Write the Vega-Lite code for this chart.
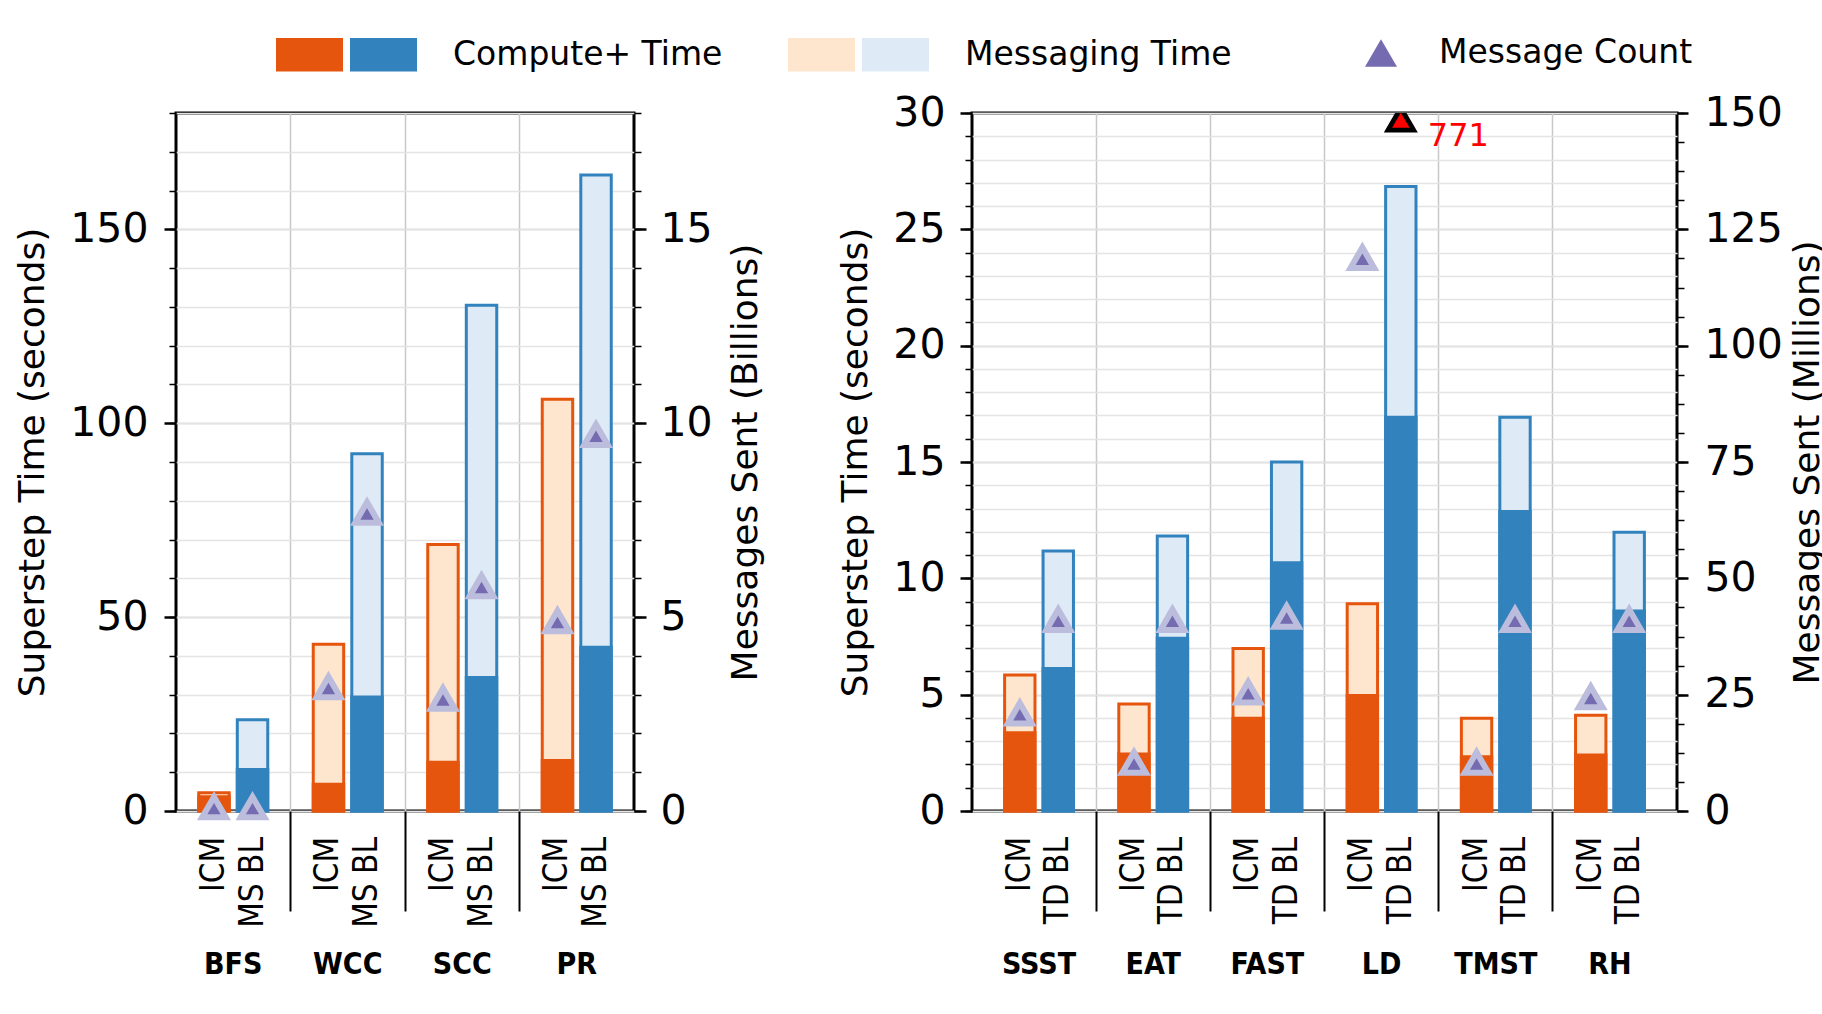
{
  "$schema": "https://vega.github.io/schema/vega-lite/v6.json",
  "background": "white",
  "padding": {"left": 13, "top": 21, "right": 0, "bottom": 0},
  "spacing": 71,
  "datasets": {
    "left": [
      {"group": "BFS", "system": "ICM", "compute": 3.7, "total": 4.7, "messages": 0.1},
      {"group": "BFS", "system": "MS BL", "compute": 10.7, "total": 23.5, "messages": 0.1},
      {"group": "WCC", "system": "ICM", "compute": 6.9, "total": 43.0, "messages": 3.2},
      {"group": "WCC", "system": "MS BL", "compute": 29.4, "total": 92.1, "messages": 7.7},
      {"group": "SCC", "system": "ICM", "compute": 12.6, "total": 68.7, "messages": 2.9},
      {"group": "SCC", "system": "MS BL", "compute": 34.4, "total": 130.4, "messages": 5.8},
      {"group": "PR", "system": "ICM", "compute": 13.0, "total": 106.2, "messages": 4.9},
      {"group": "PR", "system": "MS BL", "compute": 42.2, "total": 164.0, "messages": 9.7}
    ],
    "right": [
      {"group": "SSST", "system": "ICM", "compute": 3.36, "total": 5.85, "messages": 21.0},
      {"group": "SSST", "system": "TD BL", "compute": 6.13, "total": 11.17, "messages": 41.1},
      {"group": "EAT", "system": "ICM", "compute": 2.45, "total": 4.6, "messages": 10.4},
      {"group": "EAT", "system": "TD BL", "compute": 7.43, "total": 11.82, "messages": 41.1},
      {"group": "FAST", "system": "ICM", "compute": 3.99, "total": 6.98, "messages": 25.5},
      {"group": "FAST", "system": "TD BL", "compute": 10.67, "total": 15.0, "messages": 41.8},
      {"group": "LD", "system": "ICM", "compute": 4.96, "total": 8.91, "messages": 118.9},
      {"group": "LD", "system": "TD BL", "compute": 16.92, "total": 26.84, "messages": 771},
      {"group": "TMST", "system": "ICM", "compute": 2.33, "total": 3.99, "messages": 10.4},
      {"group": "TMST", "system": "TD BL", "compute": 12.87, "total": 16.92, "messages": 41.1},
      {"group": "RH", "system": "ICM", "compute": 2.41, "total": 4.11, "messages": 24.5},
      {"group": "RH", "system": "TD BL", "compute": 8.6, "total": 11.98, "messages": 41.1}
    ]
  },
  "hconcat": [
    {
      "width": 458,
      "height": 698,
      "data": {"name": "left"},
      "resolve": {"scale": {"x": "independent", "y": "independent", "xOffset": "independent"}, "axis": {"x": "independent", "y": "independent"}},
      "layer": [
        {
          "encoding": {
            "x": {"field": "group", "type": "nominal", "sort": null, "scale": {"type": "band", "paddingInner": 0, "paddingOuter": 0},
              "axis": {"orient": "bottom", "title": null, "labels": false, "ticks": true, "tickSize": 100, "tickWidth": 2, "tickColor": "black", "bandPosition": 0, "values": ["WCC", "SCC", "PR"], "grid": true, "gridColor": "#c8c8c8", "gridWidth": 1.5, "domain": false}},
            "xOffset": {"field": "system", "type": "nominal", "scale": {"type": "band", "paddingInner": 0.21, "paddingOuter": 0.59}}
          },
          "layer": [
            {
              "transform": [{"filter": "datum.system == 'ICM'"}],
              "mark": {"type": "bar", "stroke": "#e6550d", "strokeWidth": 3},
              "encoding": {
                "y": {"field": "total", "type": "quantitative", "scale": {"domain": [0, 180], "nice": false},
                  "axis": {"orient": "left", "title": "Superstep Time (seconds)", "values": [0, 50, 100, 150], "tickSize": 12, "tickWidth": 2.5, "labelPadding": 16, "titlePadding": 18, "grid": true, "gridColor": "#c4c4c4", "gridWidth": 1.5}},
                "fill": {"datum": "ICM Messaging", "type": "nominal",
                  "scale": {"domain": ["ICM Compute", "ICM Messaging"], "range": ["#e6550d", "#fee6ce"]},
                  "legend": {"orient": "none", "legendX": 100, "legendY": -92, "direction": "horizontal", "title": null, "symbolType": "M-1,-0.5H1V0.5H-1Z", "symbolSize": 4489, "symbolStrokeWidth": 0, "labelFontSize": 33, "labelOffset": 0, "columnPadding": 445, "labelExpr": "''"}}
              }
            },
            {
              "transform": [{"filter": "datum.system != 'ICM'"}],
              "mark": {"type": "bar", "stroke": "#3182bd", "strokeWidth": 3},
              "encoding": {
                "y": {"field": "total", "type": "quantitative"},
                "color": {"datum": "Messaging Time", "type": "nominal",
                  "scale": {"domain": ["Compute+ Time", "Messaging Time"], "range": ["#3182bd", "#deebf7"]},
                  "legend": {"orient": "none", "legendX": 174, "legendY": -92, "direction": "horizontal", "title": null, "symbolType": "M-1,-0.5H1V0.5H-1Z", "symbolSize": 4489, "symbolStrokeWidth": 0, "labelFontSize": 33, "labelOffset": 36, "columnPadding": 139, "labelLimit": 400}}
              }
            },
            {
              "transform": [{"filter": "datum.system == 'ICM'"}],
              "mark": {"type": "bar", "stroke": "#e6550d", "strokeWidth": 3},
              "encoding": {
                "y": {"field": "compute", "type": "quantitative"},
                "fill": {"datum": "ICM Compute", "type": "nominal"}
              }
            },
            {
              "transform": [{"filter": "datum.system != 'ICM'"}],
              "mark": {"type": "bar", "stroke": "#3182bd", "strokeWidth": 3},
              "encoding": {
                "y": {"field": "compute", "type": "quantitative"},
                "color": {"datum": "Compute+ Time", "type": "nominal"}
              }
            }
          ]
        },
        {
          "mark": {"type": "text", "angle": 270, "align": "right", "baseline": "middle", "yOffset": 26, "font": "DejaVu Sans Condensed, DejaVu Sans", "fontSize": 33, "color": "black"},
          "encoding": {
            "x": {"field": "group", "type": "nominal", "sort": null, "scale": {"type": "band", "paddingInner": 0, "paddingOuter": 0},
              "axis": {"orient": "bottom", "title": null, "ticks": false, "domain": false, "grid": false, "labelAngle": 0, "labelBaseline": "top", "labelPadding": 138, "labelFont": "Liberation Sans Narrow, DejaVu Sans Condensed", "labelFontWeight": "bold", "labelFontSize": 30}},
            "xOffset": {"field": "system", "type": "nominal", "scale": {"type": "band", "paddingInner": 0.21, "paddingOuter": 0.59}},
            "y": {"datum": 0, "type": "quantitative", "scale": {"domain": [0, 180], "nice": false},
              "axis": {"orient": "left", "title": null, "labels": false, "values": [0, 10, 20, 30, 40, 50, 60, 70, 80, 90, 100, 110, 120, 130, 140, 150, 160, 170, 180], "tickSize": 7, "tickWidth": 1.5, "grid": true, "gridColor": "#e4e4e4", "gridWidth": 1.5}},
            "text": {"field": "system"}
          }
        },
        {
          "mark": {"type": "point", "shape": "triangle-up", "filled": true, "color": "#756bb1", "stroke": "#bcbddc", "strokeWidth": 6, "size": 560, "opacity": 1},
          "encoding": {
            "x": {"field": "group", "type": "nominal", "sort": null, "scale": {"type": "band", "paddingInner": 0, "paddingOuter": 0}, "axis": null},
            "xOffset": {"field": "system", "type": "nominal", "scale": {"type": "band", "paddingInner": 0.21, "paddingOuter": 0.59}},
            "y": {"field": "messages", "type": "quantitative", "scale": {"domain": [0, 18], "nice": false},
              "axis": {"orient": "right", "title": "Messages Sent (Billions)", "titleAngle": 270, "titleBaseline": "top", "values": [0, 5, 10, 15], "tickSize": 12, "tickWidth": 2.5, "labelPadding": 14, "titlePadding": 16, "grid": false}}
          }
        },
        {
          "transform": [{"filter": "datum.messages > 18"}],
          "mark": {"type": "point", "filled": true, "color": "#756bb1", "stroke": "#bcbddc", "strokeWidth": 8, "size": 1024, "opacity": 1},
          "encoding": {
            "x": {"field": "group", "type": "nominal", "scale": {"type": "band", "domain": ["BFS", "WCC", "SCC", "PR"], "paddingInner": 0, "paddingOuter": 0}, "axis": null},
            "xOffset": {"field": "system", "type": "nominal", "scale": {"type": "band", "domain": ["ICM", "MS BL"], "paddingInner": 0.21, "paddingOuter": 0.59}},
            "y": {"field": "messages", "type": "quantitative", "scale": {"domain": [0, 18], "nice": false, "clamp": true},
              "axis": {"orient": "right", "title": null, "labels": false, "values": [0, 1, 2, 3, 4, 5, 6, 7, 8, 9, 10, 11, 12, 13, 14, 15, 16, 17, 18], "tickSize": 7, "tickWidth": 1.5, "grid": false}},
            "shape": {"datum": "Message Count", "type": "nominal", "scale": {"domain": ["Message Count"], "range": ["triangle-up"]},
              "legend": {"orient": "none", "legendX": 1185, "legendY": -80, "title": null, "symbolSize": 1024, "symbolFillColor": "#756bb1", "symbolStrokeColor": "#bcbddc", "symbolStrokeWidth": 8, "labelFontSize": 33, "labelOffset": 38, "labelLimit": 400}}
          }
        }
      ]
    },
    {
      "width": 705,
      "height": 698,
      "data": {"name": "right"},
      "resolve": {"scale": {"x": "independent", "y": "independent", "xOffset": "independent"}, "axis": {"x": "independent", "y": "independent"}},
      "layer": [
        {
          "encoding": {
            "x": {"field": "group", "type": "nominal", "sort": null, "scale": {"type": "band", "paddingInner": 0, "paddingOuter": 0.087},
              "axis": {"orient": "bottom", "title": null, "labels": false, "ticks": true, "tickSize": 100, "tickWidth": 2, "tickColor": "black", "bandPosition": 0, "values": ["EAT", "FAST", "LD", "TMST", "RH"], "grid": true, "gridColor": "#c8c8c8", "gridWidth": 1.5, "domain": false}},
            "xOffset": {"field": "system", "type": "nominal", "scale": {"type": "band", "paddingInner": 0.21, "paddingOuter": 0.59}}
          },
          "layer": [
            {
              "transform": [{"filter": "datum.system == 'ICM'"}],
              "mark": {"type": "bar", "stroke": "#e6550d", "strokeWidth": 3},
              "encoding": {
                "y": {"field": "total", "type": "quantitative", "scale": {"domain": [0, 30], "nice": false},
                  "axis": {"orient": "left", "title": "Superstep Time (seconds)", "values": [0, 5, 10, 15, 20, 25, 30], "tickSize": 12, "tickWidth": 2.5, "labelPadding": 15, "titlePadding": 18, "grid": true, "gridColor": "#c4c4c4", "gridWidth": 1.5}},
                "fill": {"datum": "ICM Messaging", "type": "nominal"}
              }
            },
            {
              "transform": [{"filter": "datum.system != 'ICM'"}],
              "mark": {"type": "bar", "stroke": "#3182bd", "strokeWidth": 3},
              "encoding": {
                "y": {"field": "total", "type": "quantitative"},
                "color": {"datum": "Messaging Time", "type": "nominal"}
              }
            },
            {
              "transform": [{"filter": "datum.system == 'ICM'"}],
              "mark": {"type": "bar", "stroke": "#e6550d", "strokeWidth": 3},
              "encoding": {
                "y": {"field": "compute", "type": "quantitative"},
                "fill": {"datum": "ICM Compute", "type": "nominal"}
              }
            },
            {
              "transform": [{"filter": "datum.system != 'ICM'"}],
              "mark": {"type": "bar", "stroke": "#3182bd", "strokeWidth": 3},
              "encoding": {
                "y": {"field": "compute", "type": "quantitative"},
                "color": {"datum": "Compute+ Time", "type": "nominal"}
              }
            }
          ]
        },
        {
          "mark": {"type": "text", "angle": 270, "align": "right", "baseline": "middle", "yOffset": 26, "font": "DejaVu Sans Condensed, DejaVu Sans", "fontSize": 33, "color": "black"},
          "encoding": {
            "x": {"field": "group", "type": "nominal", "sort": null, "scale": {"type": "band", "paddingInner": 0, "paddingOuter": 0.087},
              "axis": {"orient": "bottom", "title": null, "ticks": false, "domain": false, "grid": false, "labelAngle": 0, "labelBaseline": "top", "labelPadding": 138, "labelFont": "Liberation Sans Narrow, DejaVu Sans Condensed", "labelFontWeight": "bold", "labelFontSize": 30}},
            "xOffset": {"field": "system", "type": "nominal", "scale": {"type": "band", "paddingInner": 0.21, "paddingOuter": 0.59}},
            "y": {"datum": 0, "type": "quantitative", "scale": {"domain": [0, 30], "nice": false},
              "axis": {"orient": "left", "title": null, "labels": false, "values": [0, 1, 2, 3, 4, 5, 6, 7, 8, 9, 10, 11, 12, 13, 14, 15, 16, 17, 18, 19, 20, 21, 22, 23, 24, 25, 26, 27, 28, 29, 30], "tickSize": 7, "tickWidth": 1.5, "grid": true, "gridColor": "#e4e4e4", "gridWidth": 1.5}},
            "text": {"field": "system"}
          }
        },
        {
          "transform": [{"filter": "datum.messages <= 150"}],
          "mark": {"type": "point", "shape": "triangle-up", "filled": true, "color": "#756bb1", "stroke": "#bcbddc", "strokeWidth": 6, "size": 560, "opacity": 1},
          "encoding": {
            "x": {"field": "group", "type": "nominal", "scale": {"type": "band", "domain": ["SSST", "EAT", "FAST", "LD", "TMST", "RH"], "paddingInner": 0, "paddingOuter": 0.087}, "axis": null},
            "xOffset": {"field": "system", "type": "nominal", "scale": {"type": "band", "domain": ["ICM", "TD BL"], "paddingInner": 0.21, "paddingOuter": 0.59}},
            "y": {"field": "messages", "type": "quantitative", "scale": {"domain": [0, 150], "nice": false},
              "axis": {"orient": "right", "title": "Messages Sent (Millions)", "titleAngle": 270, "titleBaseline": "top", "values": [0, 25, 50, 75, 100, 125, 150], "tickSize": 11, "tickWidth": 2.5, "labelPadding": 16, "titlePadding": 8, "grid": false}}
          }
        },
        {
          "transform": [{"filter": "datum.messages > 150"}],
          "encoding": {
            "x": {"field": "group", "type": "nominal", "scale": {"type": "band", "domain": ["SSST", "EAT", "FAST", "LD", "TMST", "RH"], "paddingInner": 0, "paddingOuter": 0.087}, "axis": null},
            "xOffset": {"field": "system", "type": "nominal", "scale": {"type": "band", "domain": ["ICM", "TD BL"], "paddingInner": 0.21, "paddingOuter": 0.59}},
            "y": {"field": "messages", "type": "quantitative", "scale": {"domain": [0, 150], "nice": false, "clamp": true},
              "axis": {"orient": "right", "title": null, "labels": false, "values": [0, 6.25, 12.5, 18.75, 25, 31.25, 37.5, 43.75, 50, 56.25, 62.5, 68.75, 75, 81.25, 87.5, 93.75, 100, 106.25, 112.5, 118.75, 125, 131.25, 137.5, 143.75, 150], "tickSize": 7, "tickWidth": 1.5, "grid": false}}
          },
          "layer": [
            {"mark": {"type": "point", "shape": "triangle-up", "filled": true, "color": "red", "stroke": "black", "strokeWidth": 4.8, "size": 660, "opacity": 1, "yOffset": 6, "clip": true}},
            {"mark": {"type": "text", "color": "red", "fontSize": 32, "align": "left", "baseline": "middle", "dx": 27, "dy": 23},
             "encoding": {"text": {"field": "messages", "type": "quantitative", "format": "d"}}}
          ]
        }
      ]
    }
  ],
  "config": {
    "font": "DejaVu Sans",
    "view": {"stroke": "black", "strokeWidth": 3},
    "axis": {"labelFont": "DejaVu Sans", "labelFontSize": 41, "labelColor": "black", "titleFont": "DejaVu Sans", "titleFontSize": 36, "titleFontWeight": "normal", "titleColor": "black", "domain": false, "tickColor": "black"},
    "legend": {"labelFont": "DejaVu Sans", "labelFontSize": 33, "labelColor": "black", "symbolStrokeWidth": 8, "symbolStrokeColor": "#bcbddc"}
  }
}
